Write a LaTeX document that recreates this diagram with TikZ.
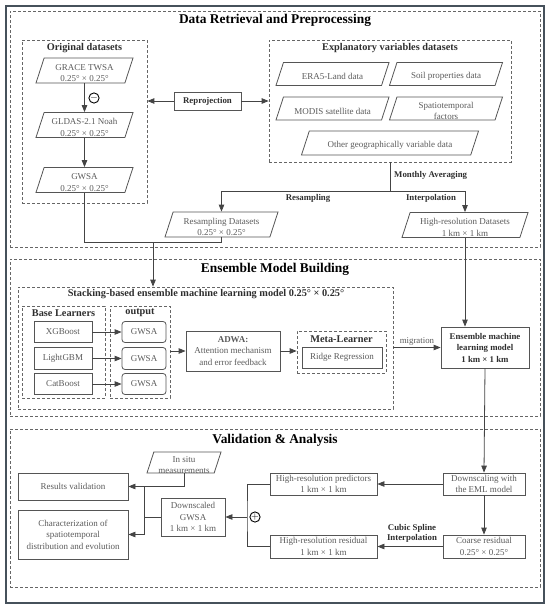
\documentclass[tikz,border=0pt]{standalone}
\usepackage{fontspec}
\setmainfont{Liberation Serif}
\usetikzlibrary{arrows.meta,shapes.geometric}
\definecolor{boxtext}{HTML}{5A5A5A}
\definecolor{boxline}{HTML}{555555}
\definecolor{dashline}{HTML}{666666}
\definecolor{frameline}{HTML}{46515B}
\definecolor{flowline}{HTML}{444444}
\definecolor{labeltext}{HTML}{2E2E2E}
\tikzset{
  every node/.style={font=\fontsize{9}{11.5}\selectfont, text=boxtext},
  box/.style={rectangle, draw=boxline, line width=0.8pt, align=center,
    inner sep=1pt},
  roundbox/.style={box, rounded corners=3pt},
  paratext/.style={align=center, inner sep=0pt, yshift=-2.5pt},
  para/.style={trapezium, trapezium left angle=72, trapezium right angle=108,
    trapezium stretches body, draw=boxline, line width=0.8pt,
    inner xsep=0.5pt, inner ysep=0.5pt, text height=12pt, text depth=12pt,
    label={[paratext]center:#1}},
  group/.style={rectangle, draw=dashline, line width=0.7pt,
    dash pattern=on 3pt off 2pt, inner sep=0pt},
  grouplabel/.style={font=\fontsize{10.3}{12}\selectfont\bfseries, text=labeltext},
  title/.style={font=\fontsize{13.4}{16}\selectfont\bfseries, text=black},
  steplabel/.style={font=\fontsize{8.8}{10.5}\selectfont\bfseries, text=labeltext,
    align=center, inner sep=1pt},
  edgelabel/.style={font=\fontsize{8.8}{10.5}\selectfont, text=boxtext, inner sep=1.5pt},
  opsign/.style={circle, draw=black, line width=0.9pt, fill=white, text=black,
    minimum size=10pt, inner sep=0pt, font=\fontsize{10}{10}\selectfont},
  line/.style={draw=flowline, line width=0.8pt},
  flow/.style={line, -{Triangle[length=7pt,width=5.5pt]}},
}

\begin{document}
\begin{tikzpicture}[x=1pt,y=-1pt]
\useasboundingbox (0,0) rectangle (550,608);

% ---- Frame and sections ----------------------------------------------------
\draw[draw=frameline, line width=1.3pt] (6,6) rectangle (544,603);
\node[group, minimum width=530, minimum height=236] (sec1) at (275,129) {};
\node[group, minimum width=530, minimum height=157] (sec2) at (275,337.5) {};
\node[group, minimum width=530, minimum height=158] (sec3) at (275,508) {};
\node[title] (t1) at (275,20) {Data Retrieval and Preprocessing};
\node[title] (t2) at (275,269) {Ensemble Model Building};
\node[title] (t3) at (275,440) {Validation \& Analysis};

% ---- Original datasets -----------------------------------------------------
\node[group, minimum width=125, minimum height=163] (orig) at (84.5,121.5) {};
\node[grouplabel] at (84.5,48) {Original datasets};
\node[para={GRACE TWSA\\0.25° × 0.25°}, minimum width=97] (grace) at (84.5,70.5) {};
\node[para={GLDAS-2.1 Noah\\0.25° × 0.25°}, minimum width=97] (gldas) at (84.5,125) {};
\node[para={GWSA\\0.25° × 0.25°}, minimum width=97] (gwsa) at (84.5,180) {};
\draw[flow] (grace) -- (gldas);
\draw[flow] (gldas) -- (gwsa);
\node[opsign] (minus) at (94,98) {$-$};

% ---- Explanatory variables -------------------------------------------------
\node[group, minimum width=242, minimum height=122] (expl) at (390,101) {};
\node[grouplabel] at (390,48) {Explanatory variables datasets};
\def\eh{11pt}
\node[para={ERA5-Land data}, minimum width=113, text height=\eh, text depth=\eh]
  (era) at (332.5,74) {};
\node[para={Soil properties data}, minimum width=113, text height=\eh, text depth=\eh]
  (soil) at (446,74) {};
\node[para={MODIS satellite data}, minimum width=113, text height=\eh, text depth=\eh]
  (modis) at (332.5,108.5) {};
\node[para={Spatiotemporal\\factors}, minimum width=113, text height=\eh, text depth=\eh]
  (spat) at (446,108.5) {};
\node[para={Other geographically variable data}, minimum width=177,
  text height=11.5pt, text depth=11.5pt] (other) at (390,143) {};

\node[box, minimum width=67, minimum height=18,
  font=\fontsize{8.8}{10.5}\selectfont\bfseries, text=labeltext] (reproj) at (207.5,101) {Reprojection};
\draw[flow] (reproj.west) -- (orig.east |- reproj.west);
\draw[flow] (reproj.east) -- (expl.west |- reproj.east);

% ---- Resampling and interpolation ------------------------------------------
\node[para={Resampling Datasets\\0.25° × 0.25°}, minimum width=113]
  (resamp) at (221.5,224.5) {};
\node[para={High-resolution Datasets\\1 km × 1 km}, minimum width=126]
  (hires) at (465,225) {};
\coordinate (avg) at (390,191);
\draw[line] (expl.south) -- (avg);
\draw[line] (resamp.north |- avg) -- (hires.north |- avg);
\draw[flow] (resamp.north |- avg) -- (resamp.north);
\draw[flow] (hires.north |- avg) -- (hires.north);
\node[steplabel, anchor=west] at (393,175) {Monthly Averaging};
\node[steplabel] at (308,198) {Resampling};
\node[steplabel] at (431,198) {Interpolation};

\coordinate (merge) at (153,242);
\draw[line] (gwsa.south) |- (resamp.south |- merge) -- (resamp.south);

% ---- Stacking ensemble -----------------------------------------------------
\node[group, minimum width=375, minimum height=122] (stack) at (205.5,348) {};
\node[grouplabel] at (206,294.5) {Stacking-based ensemble machine learning model 0.25° × 0.25°};
\draw[flow] (merge) -- (merge |- stack.north);

\node[group, minimum width=83, minimum height=92] (base) at (63.5,352) {};
\node[grouplabel] at (63.5,313) {Base Learners};
\node[group, minimum width=60, minimum height=92] (outbox) at (140,352) {};
\node[grouplabel] at (140,313) {output};

\def\lw{58}
\node[box, minimum width=\lw, minimum height=21] (xgb) at (63,332) {XGBoost};
\node[box, minimum width=\lw, minimum height=22] (lgbm) at (63,358.5) {LightGBM};
\node[box, minimum width=\lw, minimum height=21] (cat) at (63,384) {CatBoost};
\node[roundbox, minimum width=44, minimum height=21] (o1) at (144,332) {GWSA};
\node[roundbox, minimum width=44, minimum height=22] (o2) at (144,358.5) {GWSA};
\node[roundbox, minimum width=44, minimum height=21] (o3) at (144,384) {GWSA};
\draw[flow] (xgb) -- (o1);
\draw[flow] (lgbm) -- (o2);
\draw[flow] (cat) -- (o3);

\node[box, minimum width=94, minimum height=40] (adwa) at (233,351)
  {\textbf{ADWA:}\\Attention mechanism\\and error feedback};
\node[group, minimum width=89, minimum height=42] (meta) at (341.5,352) {};
\node[grouplabel] at (341.5,339) {Meta-Learner};
\node[box, minimum width=80, minimum height=21] (ridge) at (342,357.5) {Ridge Regression};
\draw[flow] (outbox.east |- adwa.west) -- (adwa.west);
\draw[flow] (adwa.east) -- (meta.west |- adwa.east);

\node[box, minimum width=88, minimum height=41, text=labeltext,
  font=\fontsize{8.8}{11.5}\selectfont\bfseries] (ens) at (485,347.5)
  {Ensemble machine\\learning model\\1 km × 1 km};
\draw[flow] (stack.east |- ens.west) -- (ens.west)
  node[midway, above, edgelabel] {migration};
\draw[flow] (hires.south) -- (hires.south |- ens.north);

% ---- Validation and analysis -----------------------------------------------
\node[box, minimum width=82, minimum height=22] (down) at (484,484)
  {Downscaling with\\the EML model};
\node[box, minimum width=82, minimum height=23] (coarse) at (484,546.5)
  {Coarse residual\\0.25° × 0.25°};
\node[box, minimum width=107, minimum height=22] (pred) at (323.5,484)
  {High-resolution predictors\\1 km × 1 km};
\node[box, minimum width=107, minimum height=23] (resid) at (323.5,546.5)
  {High-resolution residual\\1 km × 1 km};
\draw[flow] (ens.south) -- (down.north);
\draw[flow] (down) -- (pred);
\draw[flow] (down) -- (coarse);
\draw[flow] (coarse) -- (resid);
\node[steplabel, anchor=south] at (412,544) {Cubic Spline\\Interpolation};

\node[box, minimum width=64, minimum height=38] (dgwsa) at (193,517)
  {Downscaled\\GWSA\\1 km × 1 km};
\coordinate (jr) at (247,517);
\draw[line] (pred.west) -| (jr) |- (resid.west);
\draw[flow] (jr) -- (dgwsa.east);
\node[opsign] (plus) at (255,517) {$+$};

\node[para={In situ\\measurements}, minimum width=74, text height=10pt, text depth=10pt]
  (insitu) at (184,462.5) {};
\node[box, minimum width=110, minimum height=27] (valid) at (73,486.5) {Results validation};
\node[box, minimum width=110, minimum height=49] (charact) at (73,534.5)
  {Characterization of\\spatiotemporal\\distribution and evolution};
\coordinate (jtop) at (144,486.5);
\coordinate (jbot) at (144,534.5);
\draw[line] (insitu.south) |- (jtop) -- (jbot);
\draw[line] (dgwsa.west) -- (dgwsa.west -| jtop);
\draw[flow] (jtop) -- (valid.east);
\draw[flow] (jbot) -- (charact.east);

\end{tikzpicture}
\end{document}
